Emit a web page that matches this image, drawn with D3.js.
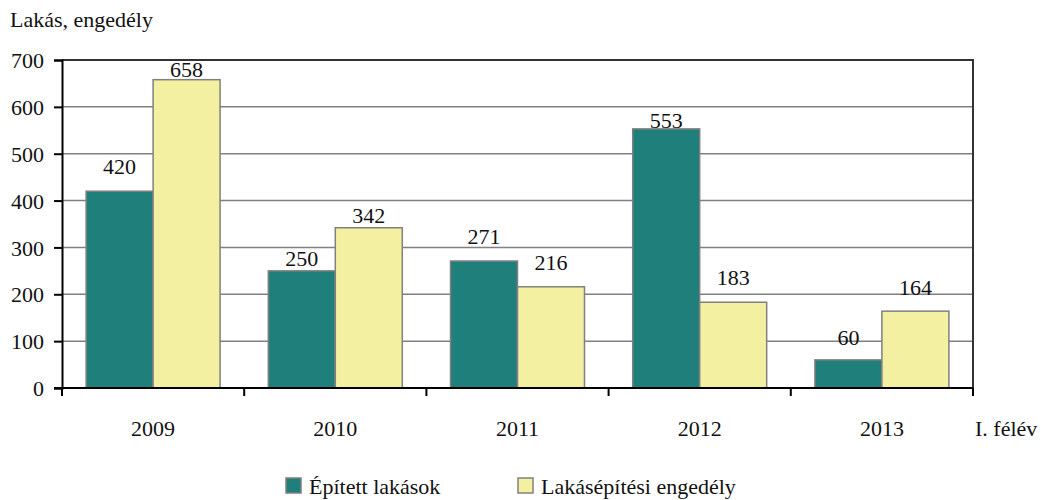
<!DOCTYPE html>
<html>
<head>
<meta charset="utf-8">
<script src="https://cdn.jsdelivr.net/npm/d3@7"></script>
<style>
  body { margin: 0; background: #fff; }
</style>
</head>
<body>
<svg id="chart" width="1041" height="500" font-family="'Liberation Serif', 'DejaVu Serif', serif"></svg>
<script>
// data
const years = ["2009", "2010", "2011", "2012", "2013"];
const built = [420, 250, 271, 553, 60];      // Épített lakások
const permits = [658, 342, 216, 183, 164];   // Lakásépítési engedély
const seriesNames = ["Épített lakások", "Lakásépítési engedély"];
const yTicks = [0, 100, 200, 300, 400, 500, 600, 700];

const colors = ["#1f7f7b", "#f3f1a1"];
// label lift above bar top (px), Excel pushed some of them higher
const labelLift = [[17, 5, 17, 1, 15], [3, 5, 17, 17, 16]];

const FONT = "Liberation Serif, DejaVu Serif, serif";
const margin = {top: 60, right: 68, bottom: 112, left: 62};
const svg = d3.select("#chart");
const W = +svg.attr("width"), H = +svg.attr("height");
const width = W - margin.left - margin.right;
const height = H - margin.top - margin.bottom;
const fontSize = "22px";

const g = svg.append("g").attr("transform", `translate(${margin.left},${margin.top})`);

const x0 = d3.scaleBand().domain(years).range([0, width]).padding(0);
const x1 = d3.scaleBand().domain([0, 1]).range([0, x0.bandwidth()]).paddingInner(0).paddingOuter(0.36);
const y = d3.scaleLinear().domain([0, 700]).range([height, 0]);

function txt(sel) {
  return sel.attr("font-family", FONT).attr("font-size", fontSize).attr("fill", "#111");
}

// gridlines
g.selectAll(".grid")
  .data(yTicks.filter(d => d > 0 && d < 700))
  .enter().append("line")
  .attr("x1", 0).attr("x2", width)
  .attr("y1", d => y(d)).attr("y2", d => y(d))
  .attr("stroke", "#808080").attr("stroke-width", 1.5);

// top and right frame
g.append("path")
  .attr("d", `M0,${y(700)}H${width}V${height}`)
  .attr("fill", "none").attr("stroke", "#333").attr("stroke-width", 2);

// bars
const series = [built, permits];
series.forEach((vals, s) => {
  g.selectAll(".bar" + s)
    .data(vals)
    .enter().append("rect")
    .attr("x", (d, i) => x0(years[i]) + x1(s))
    .attr("y", d => y(d))
    .attr("width", x1.bandwidth())
    .attr("height", d => height - y(d))
    .attr("fill", colors[s])
    .attr("stroke", "#808080").attr("stroke-width", 1.5);

  g.selectAll(".lbl" + s)
    .data(vals)
    .enter().append("text")
    .attr("x", (d, i) => x0(years[i]) + x1(s) + x1.bandwidth() / 2)
    .attr("y", (d, i) => y(d) - labelLift[s][i])
    .attr("text-anchor", "middle")
    .call(txt)
    .text(d => d);
});

// y axis
const yAxis = g.append("g")
  .call(d3.axisLeft(y).tickValues(yTicks).tickSize(8).tickPadding(10).tickFormat(d3.format("d")));
yAxis.attr("font-family", FONT).attr("font-size", fontSize);
yAxis.select(".domain").attr("stroke", "#000").attr("stroke-width", 2);
yAxis.selectAll(".tick line").attr("stroke", "#000").attr("stroke-width", 2);
yAxis.selectAll("text").call(txt).attr("dy", "0.35em");

// x axis: ticks on category boundaries
const xAxis = g.append("g").attr("transform", `translate(0,${height})`);
xAxis.append("line").attr("x1", -8).attr("x2", width)
  .attr("stroke", "#000").attr("stroke-width", 2);
xAxis.selectAll(".xt")
  .data(years.map(yr => x0(yr)).concat([width]))
  .enter().append("line")
  .attr("x1", d => d).attr("x2", d => d)
  .attr("y1", 0).attr("y2", 8)
  .attr("stroke", "#000").attr("stroke-width", 2);
xAxis.selectAll(".xl")
  .data(years)
  .enter().append("text")
  .attr("x", d => x0(d) + x0.bandwidth() / 2)
  .attr("y", 48)
  .attr("text-anchor", "middle")
  .call(txt)
  .text(d => d);

// axis titles
svg.append("text").attr("x", 10).attr("y", 27).call(txt).text("Lakás, engedély");
svg.append("text").attr("x", 975).attr("y", 436).call(txt).text("I. félév");

// legend
const legendX = [286, 518];
const legend = svg.selectAll(".leg")
  .data(seriesNames)
  .enter().append("g")
  .attr("transform", (d, i) => `translate(${legendX[i]},478)`);
legend.append("rect")
  .attr("width", 15).attr("height", 15)
  .attr("fill", (d, i) => colors[i])
  .attr("stroke", "#808080").attr("stroke-width", 1.5);
legend.append("text")
  .attr("x", 23).attr("y", 16)
  .call(txt)
  .text(d => d);
</script>
</body>
</html>
